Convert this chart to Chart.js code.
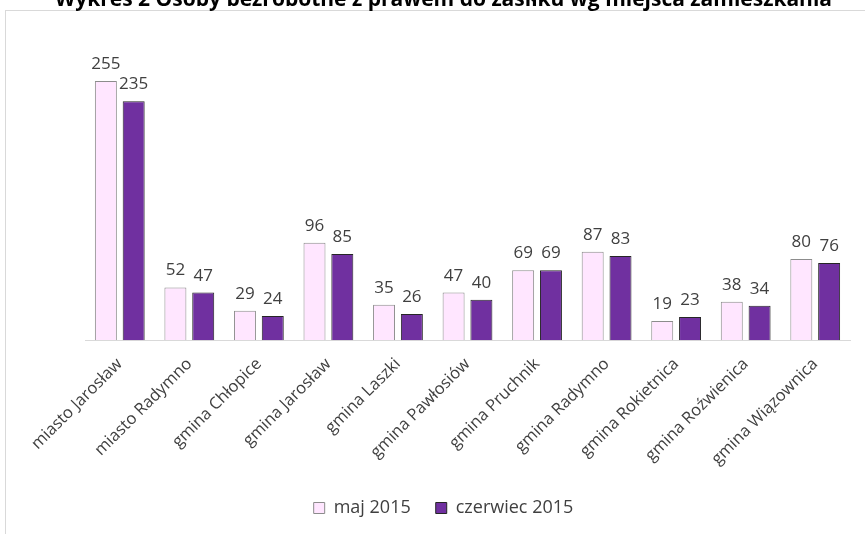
<!DOCTYPE html>
<html>
<head>
<meta charset="utf-8">
<script src="https://cdn.jsdelivr.net/npm/chart.js@4"></script>
<style>
  html, body { margin: 0; padding: 0; background: #fff; overflow: hidden; }
  #frame { position: absolute; left: 5px; top: 10px; width: 900px; height: 600px; border: 1px solid #d9d9d9; }
  #wrap { position: absolute; left: 0; top: -13px; width: 865px; height: 547px; }
</style>
</head>
<body>
<div id="frame"></div>
<div id="wrap"><canvas id="chartUnemployed"></canvas></div>
<script>
const places = [
  'miasto Jarosław',
  'miasto Radymno',
  'gmina Chłopice',
  'gmina Jarosław',
  'gmina Laszki',
  'gmina Pawłosiów',
  'gmina Pruchnik',
  'gmina Radymno',
  'gmina Rokietnica',
  'gmina Roźwienica',
  'gmina Wiązownica',
];
const may2015 = [255, 52, 29, 96, 35, 47, 69, 87, 19, 38, 80];
const june2015 = [235, 47, 24, 85, 26, 40, 69, 83, 23, 34, 76];

const fontFamily = "'Open Sans', 'Liberation Sans', sans-serif";

// numbers above the bars
const barLabels = {
  id: 'barLabels',
  afterDatasetsDraw(chart) {
    const ctx = chart.ctx;
    ctx.save();
    ctx.font = '17px ' + fontFamily;
    ctx.fillStyle = '#404040';
    ctx.textAlign = 'center';
    ctx.textBaseline = 'alphabetic';
    chart.data.datasets.forEach((ds, i) => {
      chart.getDatasetMeta(i).data.forEach((bar, j) => {
        ctx.fillText(ds.data[j], bar.x, bar.y - 12);
      });
    });
    ctx.restore();
  }
};

new Chart(document.getElementById('chartUnemployed'), {
  type: 'bar',
  data: {
    labels: places,
    datasets: [
      {
        label: 'maj 2015',
        data: may2015,
        backgroundColor: '#FFE6FF',
        borderColor: '#8c8c8c',
        borderWidth: 1,
        barPercentage: 0.79,
        categoryPercentage: 0.8,
      },
      {
        label: 'czerwiec 2015',
        data: june2015,
        backgroundColor: '#7030A0',
        borderColor: '#262626',
        borderWidth: 1,
        barPercentage: 0.79,
        categoryPercentage: 0.8,
      },
    ],
  },
  options: {
    responsive: true,
    maintainAspectRatio: false,
    animation: false,
    layout: { padding: { left: 37, right: 15, top: 0, bottom: 7 } },
    plugins: {
      title: {
        display: true,
        text: 'Wykres 2 Osoby bezrobotne z prawem do zasiłku wg miejsca zamieszkania',
        color: '#000',
        font: { family: fontFamily, size: 21, weight: 'bold' },
        padding: { top: 0, bottom: 23 },
      },
      legend: {
        position: 'bottom',
        labels: {
          color: '#404040',
          font: { family: fontFamily, size: 18 },
          boxWidth: 11,
          boxHeight: 11,
          padding: 25,
        },
      },
      tooltip: { enabled: false },
    },
    scales: {
      x: {
        grid: { display: false, drawTicks: false },
        border: { color: '#d9d9d9' },
        ticks: {
          color: '#404040',
          font: { family: fontFamily, size: 16.5 },
          maxRotation: 45,
          minRotation: 45,
          padding: 14,
        },
        afterFit: (scale) => { scale.height -= 9; },
      },
      y: {
        min: 0,
        max: 300,
        grid: { display: false },
        border: { display: false },
        ticks: { display: false },
        afterFit: (scale) => { scale.width = 48; },
      },
    },
  },
  plugins: [barLabels],
});
</script>
</body>
</html>
